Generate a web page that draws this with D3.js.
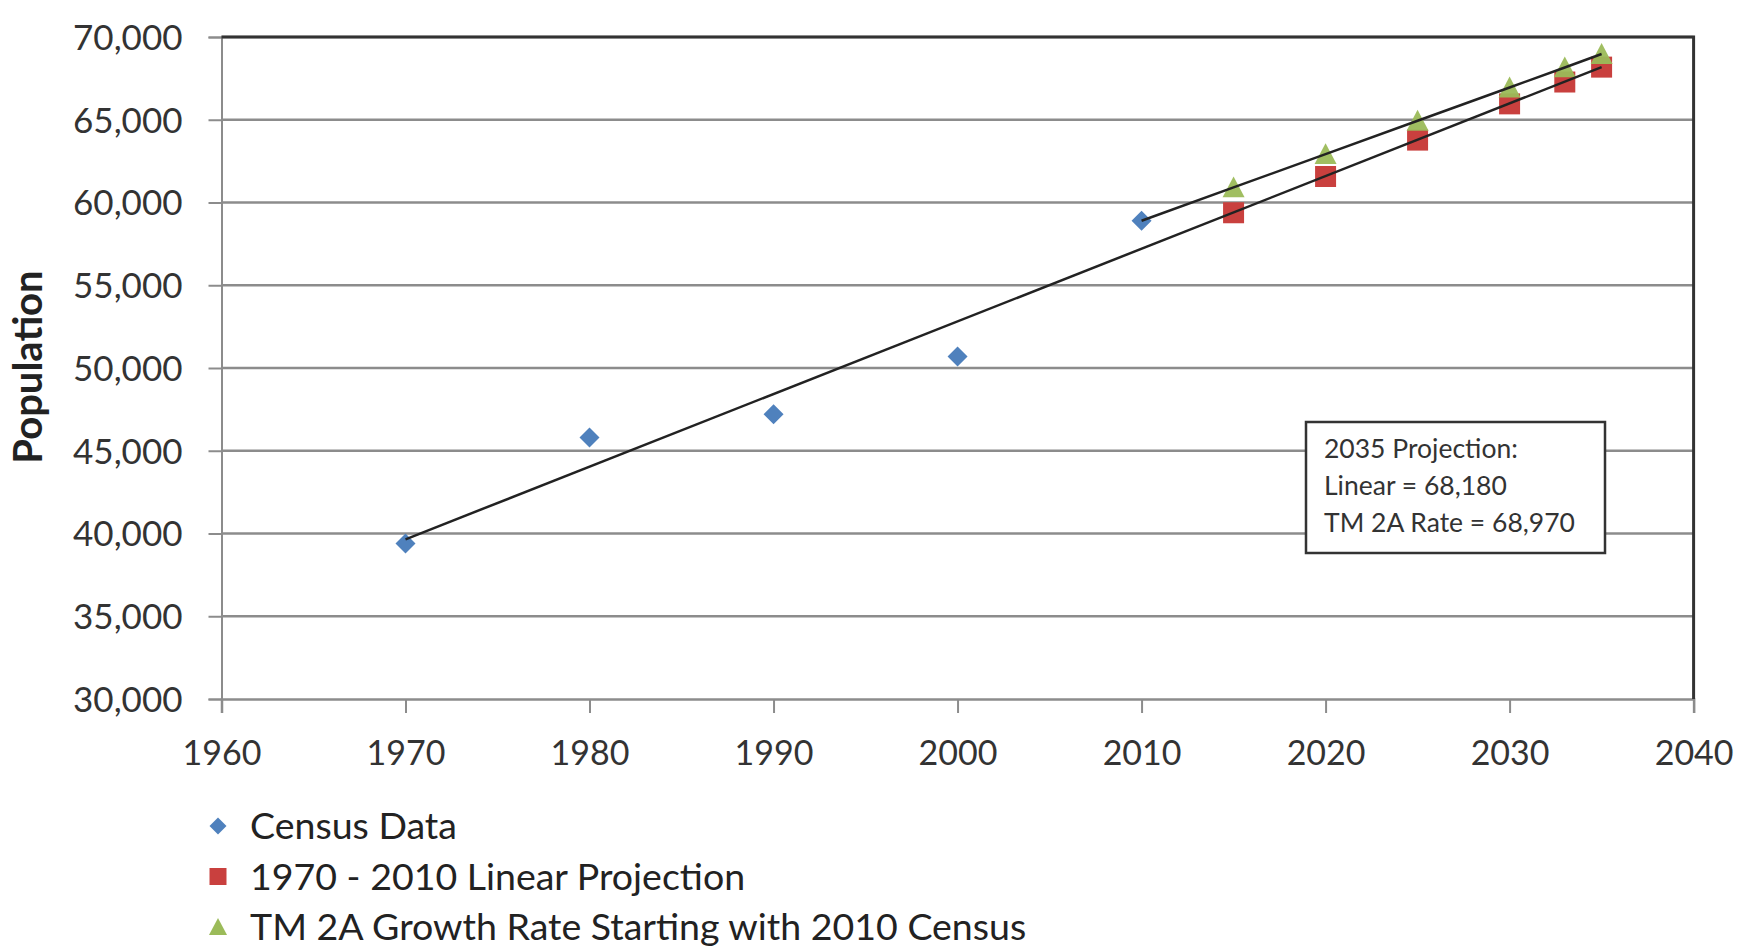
<!DOCTYPE html>
<html>
<head>
<meta charset="utf-8">
<script src="https://cdn.jsdelivr.net/npm/d3@7"></script>
<style>
  html, body { margin: 0; padding: 0; background: #ffffff; }
  svg { display: block; font-family: Lato, "Open Sans", sans-serif; }
</style>
</head>
<body>
<svg id="chart" width="1751" height="948"></svg>
<script>
// ---- data ----
const censusYears = [1970, 1980, 1990, 2000, 2010];
const censusValues = [39400, 45800, 47200, 50700, 58900];

const projYears = [2015, 2020, 2025, 2030, 2033, 2035];
const linearValues = [59380, 61570, 63770, 65960, 67280, 68180];
const tmValues = [60910, 62920, 64940, 66950, 68160, 68970];

// trend line end points (1970 - 2010 linear fit extended to 2035)
const linearLineYears = [1970, 2035];
const linearLineValues = [39650, 68180];

const xTicks = [1960, 1970, 1980, 1990, 2000, 2010, 2020, 2030, 2040];
const yTicks = [30000, 35000, 40000, 45000, 50000, 55000, 60000, 65000, 70000];

const legendLabels = ["Census Data", "1970 - 2010 Linear Projection", "TM 2A Growth Rate Starting with 2010 Census"];
const boxLines = ["2035 Projection:", "Linear = 68,180", "TM 2A Rate = 68,970"];
const yTitle = "Population";

(function () {
// ---- layout ----
const svg = d3.select("#chart");
const pL = 221.5, pR = 1693.6, pT = 37, pB = 699;
const x = d3.scaleLinear().domain([1960, 2040]).range([pL, pR]);
const y = d3.scaleLinear().domain([30000, 70000]).range([pB, pT]);

const blue = "#4f81bd", red = "#c9403e", green = "#9bbb59";
const gridColor = "#8c8c8c";

// gridlines
svg.append("g").selectAll("line").data(yTicks.slice(1)).join("line")
  .attr("x1", pL).attr("x2", pR)
  .attr("y1", d => y(d)).attr("y2", d => y(d))
  .attr("stroke", gridColor).attr("stroke-width", 2.5);

// y axis
const yAxis = svg.append("g").attr("transform", `translate(${pL},0)`)
  .call(d3.axisLeft(y).tickValues(yTicks).tickSize(13).tickPadding(26)
    .tickFormat(d3.format(",")));
yAxis.select(".domain").attr("stroke", gridColor).attr("stroke-width", 2);
yAxis.selectAll(".tick line").attr("stroke", gridColor).attr("stroke-width", 2);
yAxis.selectAll(".tick text").attr("font-size", 35).attr("fill", "#333")
  .attr("font-family", "Lato, sans-serif").attr("dy", "0.35em").attr("x", -39);

// x axis
const xAxis = svg.append("g").attr("transform", `translate(0,${pB})`)
  .call(d3.axisBottom(x).tickValues(xTicks).tickSize(14).tickPadding(10)
    .tickFormat(d3.format("d")));
xAxis.select(".domain").attr("stroke", gridColor).attr("stroke-width", 2.5);
xAxis.selectAll(".tick line").attr("stroke", gridColor).attr("stroke-width", 2);
xAxis.selectAll(".tick text").attr("font-size", 34).attr("fill", "#333")
  .attr("font-family", "Lato, sans-serif").attr("dy", 0).attr("y", 66);

// top and right border
svg.append("path")
  .attr("d", `M${pL},${pT}H${pR}V${pB}`)
  .attr("fill", "none").attr("stroke", "#333").attr("stroke-width", 3);

// marker shapes
const diamond = s => `M0,${-s}L${s},0L0,${s}L${-s},0Z`;
const square = s => `M${-s},${-s}H${s}V${s}H${-s}Z`;
const triangle = s => `M0,${-s}L${s},${s * 0.9}H${-s}Z`;

const census = censusYears.map((yr, i) => ({ yr, v: censusValues[i] }));
const linear = projYears.map((yr, i) => ({ yr, v: linearValues[i] }));
const tm = projYears.map((yr, i) => ({ yr, v: tmValues[i] }));

svg.append("g").selectAll("path").data(census).join("path")
  .attr("d", diamond(10)).attr("fill", blue)
  .attr("transform", d => `translate(${x(d.yr)},${y(d.v)})`);
svg.append("g").selectAll("path").data(linear).join("path")
  .attr("d", square(10.5)).attr("fill", red)
  .attr("transform", d => `translate(${x(d.yr)},${y(d.v)})`);
svg.append("g").selectAll("path").data(tm).join("path")
  .attr("d", triangle(11)).attr("fill", green).attr("opacity", 0.95)
  .attr("transform", d => `translate(${x(d.yr)},${y(d.v)})`);

// lines
const line = d3.line().x(d => x(d.yr)).y(d => y(d.v));
const linearLine = linearLineYears.map((yr, i) => ({ yr, v: linearLineValues[i] }));
svg.append("path").datum(linearLine).attr("d", line)
  .attr("fill", "none").attr("stroke", "#222").attr("stroke-width", 2.5);
const tmLine = [census[census.length - 1]].concat(tm);
svg.append("path").datum(tmLine).attr("d", line)
  .attr("fill", "none").attr("stroke", "#222").attr("stroke-width", 2.5);

// annotation box
const box = svg.append("g");
box.append("rect").attr("x", 1306).attr("y", 422).attr("width", 299).attr("height", 131)
  .attr("fill", "#fff").attr("stroke", "#333").attr("stroke-width", 2.5);
box.selectAll("text").data(boxLines).join("text")
  .attr("x", 1324).attr("y", (d, i) => 458 + i * 37)
  .attr("font-size", 26.5).attr("fill", "#333").text(d => d);

// y title
svg.append("text")
  .attr("transform", "translate(42,367) rotate(-90)")
  .attr("text-anchor", "middle").attr("font-size", 40).attr("font-weight", "bold")
  .attr("fill", "#222").text(yTitle);

// legend
const legendShapes = [diamond(8.5), square(8.5), triangle(9)];
const legendColors = [blue, red, green];
const lg = svg.append("g");
legendLabels.forEach((lab, i) => {
  const cy = 826 + i * 50.5;
  lg.append("path").attr("d", legendShapes[i]).attr("fill", legendColors[i])
    .attr("transform", `translate(218,${cy})`);
  lg.append("text").attr("x", 250).attr("y", cy + 13)
    .attr("font-size", 37.5).attr("fill", "#222").text(lab);
});
})();
</script>
</body>
</html>
